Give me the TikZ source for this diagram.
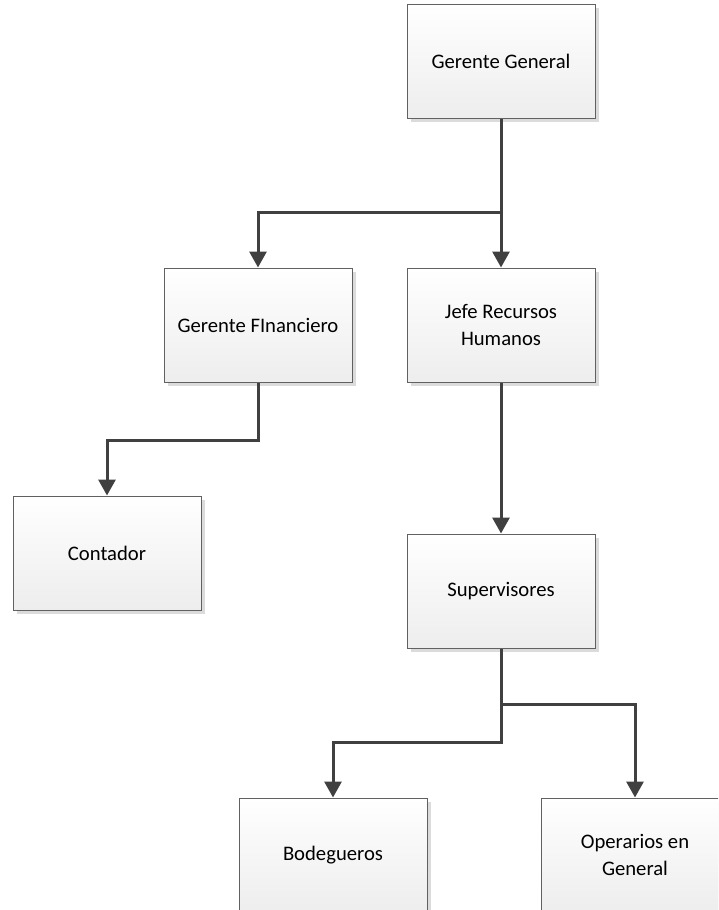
\documentclass[tikz,border=0pt]{standalone}
\usepackage{fontspec}
\setmainfont{Carlito}
\usetikzlibrary{arrows.meta,shadows}
\newlength{\du}
\setlength{\du}{0.75pt}
\definecolor{boxline}{rgb}{0.38,0.38,0.38}
\definecolor{arrowline}{rgb}{0.25,0.25,0.25}
\tikzset{
  cargo/.style={rectangle, draw=boxline, line width=1\du, top color=white, bottom color=black!7,
    minimum width=188\du, minimum height=114\du, align=center, inner sep=0pt,
    font=\fontsize{15.5}{20}\selectfont,
    drop shadow={shadow xshift=4\du, shadow yshift=-4\du, fill=black!14, opacity=1}},
  conn/.style={draw=arrowline, line width=3\du, -{Triangle[width=12.75pt,length=12pt]}}
}
\begin{document}
\begin{tikzpicture}
\clip (0,0) rectangle (718\du,-910\du);
\fill[white] (0,0) rectangle (718\du,-910\du);
\node[cargo] (gg) at (501\du,-61\du){Gerente General};
\node[cargo] (gf) at (258\du,-325\du){Gerente FInanciero};
\node[cargo] (jefe) at (501\du,-325\du){Jefe Recursos\\Humanos};
\node[cargo] (cont) at (107\du,-553\du){Contador};
\node[cargo] (sup) at (501\du,-591\du){Supervisores};
\node[cargo] (bod) at (333\du,-855\du){Bodegueros};
\node[cargo] (oper) at (635\du,-855\du){Operarios en\\General};
\coordinate (b1) at (501\du,-212\du);
% ramas
\draw[conn] (gg.south) -- (jefe.north);
\draw[conn] (b1) -| (gf.north);
\draw[conn] (gf.south) -- ++(0,-58\du) -| (cont.north);
\draw[conn] (jefe.south) -- (sup.north);
\draw[conn] (sup.south) -- ++(0,-56\du) -| (oper.north);
\draw[conn] (sup.south) -- ++(0,-94\du) -| (bod.north);
\end{tikzpicture}
\end{document}
